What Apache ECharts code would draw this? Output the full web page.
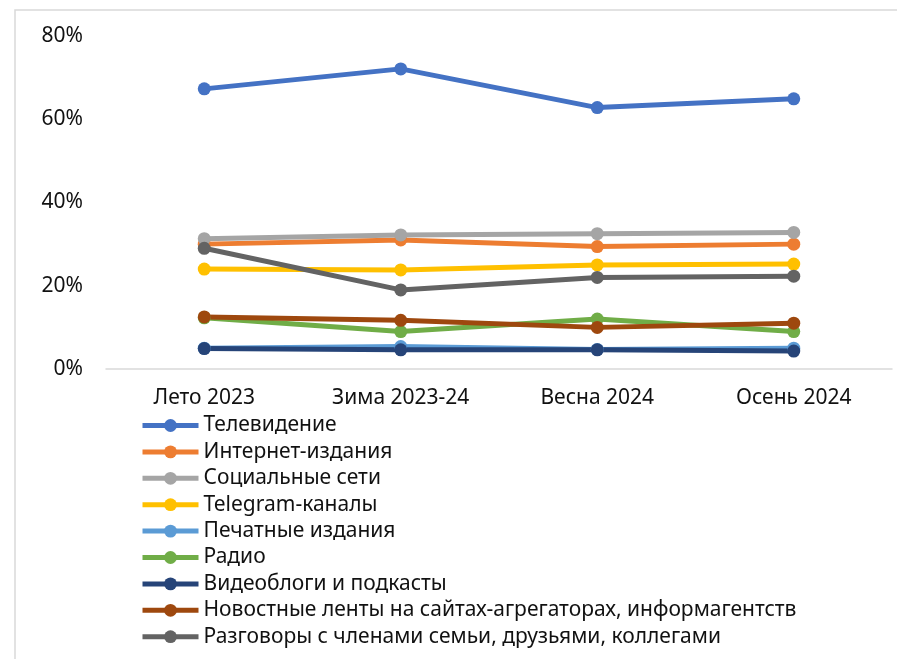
<!DOCTYPE html>
<html>
<head>
<meta charset="utf-8">
<script src="https://cdn.jsdelivr.net/npm/echarts@6/dist/echarts.min.js"></script>
<style>
  html, body { margin: 0; padding: 0; background: #fff; }
  #chart { width: 897px; height: 659px; }
</style>
</head>
<body>
<div id="chart"></div>
<script>
// periods and y ticks
var categories = ['Лето 2023', 'Зима 2023-24', 'Весна 2024', 'Осень 2024'];
var yTicks = [0, 20, 40, 60, 80];

// shares, %
var tv = [67.3, 72.1, 62.8, 64.9];
var internetMedia = [30.0, 31.0, 29.4, 30.0];
var socialNets = [31.3, 32.2, 32.5, 32.8];
var telegram = [24.0, 23.8, 25.0, 25.2];
var printMedia = [5.0, 5.4, 4.7, 5.0];
var radio = [12.3, 9.0, 12.0, 9.0];
var videoblogs = [4.9, 4.6, 4.6, 4.3];
var aggregators = [12.5, 11.7, 10.0, 11.0];
var conversations = [29.0, 19.0, 22.0, 22.3];

var names = [
    'Телевидение',
    'Интернет-издания',
    'Социальные сети',
    'Telegram-каналы',
    'Печатные издания',
    'Радио',
    'Видеоблоги и подкасты',
    'Новостные ленты на сайтах-агрегаторах, информагентств',
    'Разговоры с членами семьи, друзьями, коллегами'
];
var values = [tv, internetMedia, socialNets, telegram, printMedia, radio, videoblogs, aggregators, conversations];
var colors = ['#4472C4', '#ED7D31', '#A5A5A5', '#FFC000', '#5B9BD5', '#70AD47', '#264478', '#9E480E', '#636363'];

var chart = echarts.init(document.getElementById('chart'));

var series = names.map(function (name, i) {
    return {
        name: name,
        type: 'line',
        data: values[i],
        symbol: 'circle',
        symbolSize: 13,
        color: colors[i],
        lineStyle: { width: 5, color: colors[i] },
        itemStyle: { color: colors[i] },
        emphasis: { disabled: true },
        animation: false
    };
});

var option = {
    backgroundColor: '#fff',
    textStyle: { fontFamily: 'Noto Sans' },
    graphic: [{
        type: 'rect',
        shape: { x: 15, y: 10, width: 900, height: 700 },
        style: { fill: 'none', stroke: '#d9d9d9', lineWidth: 1.5 },
        silent: true
    }],
    grid: { left: 106, right: 5, top: 36, bottom: 290 },
    xAxis: {
        type: 'category',
        data: categories,
        boundaryGap: true,
        axisLine: { lineStyle: { color: '#d9d9d9', width: 1.5 } },
        axisTick: { show: false },
        axisLabel: { color: '#111', fontSize: 21, margin: 19, fontFamily: 'Noto Sans' }
    },
    yAxis: {
        type: 'value',
        min: yTicks[0],
        max: yTicks[yTicks.length - 1],
        interval: 20,
        axisLine: { show: false },
        axisTick: { show: false },
        splitLine: { show: false },
        axisLabel: { color: '#111', fontSize: 21, margin: 23, formatter: '{value}%', fontFamily: 'Noto Sans' }
    },
    legend: {
        orient: 'vertical',
        left: 140,
        top: 415,
        padding: 0,
        itemWidth: 56,
        itemHeight: 16,
        itemGap: 5.4,
        lineStyle: { width: 5 },
        textStyle: { color: '#111', fontSize: 21, lineHeight: 21, fontFamily: 'Noto Sans' },
        data: names
    },
    series: series
};

chart.setOption(option);
</script>
</body>
</html>
